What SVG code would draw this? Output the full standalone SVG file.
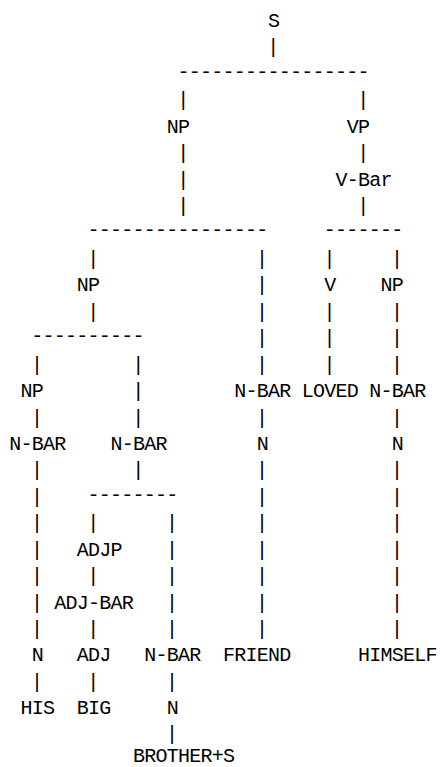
<svg xmlns="http://www.w3.org/2000/svg" width="440" height="767" viewBox="0 0 440 767">
<style>
.lb{font-family:"Liberation Mono","DejaVu Sans Mono",monospace;font-size:20px;letter-spacing:-0.75px;fill:#000}
.p{font-family:"Liberation Mono","DejaVu Sans Mono",monospace;font-size:20px;fill:#000;text-anchor:middle}
.d{font-family:"Liberation Mono","DejaVu Sans Mono",monospace;font-size:20px;letter-spacing:-0.75px;fill:#000}
</style>
<rect width="440" height="767" fill="#fff"/>
<g id="connectors">
<text class="p" x="273.3" y="53.4">|</text>
<text class="d" x="177.5" y="77.9">-----------------</text>
<text class="p" x="183.3" y="106.3">|</text><text class="p" x="363.3" y="106.3">|</text>
<text class="p" x="183.3" y="159.2">|</text><text class="p" x="363.3" y="159.2">|</text>
<text class="p" x="183.3" y="185.6">|</text>
<text class="p" x="183.3" y="212">|</text><text class="p" x="363.3" y="212">|</text>
<text class="d" x="87.5" y="236.4">----------------</text>
<text class="d" x="323.75" y="236.4">-------</text>
<text class="p" x="93.3" y="264.9">|</text><text class="p" x="262.05" y="264.9">|</text><text class="p" x="329.55" y="264.9">|</text><text class="p" x="397.05" y="264.9">|</text>
<text class="p" x="262.05" y="291.3">|</text>
<text class="p" x="93.3" y="317.7">|</text><text class="p" x="262.05" y="317.7">|</text><text class="p" x="329.55" y="317.7">|</text><text class="p" x="397.05" y="317.7">|</text>
<text class="d" x="31.25" y="342.2">----------</text>
<text class="p" x="262.05" y="344.2">|</text><text class="p" x="329.55" y="344.2">|</text><text class="p" x="397.05" y="344.2">|</text>
<text class="p" x="37.05" y="370.6">|</text><text class="p" x="138.3" y="370.6">|</text><text class="p" x="262.05" y="370.6">|</text><text class="p" x="329.55" y="370.6">|</text><text class="p" x="397.05" y="370.6">|</text>
<text class="p" x="138.3" y="397">|</text>
<text class="p" x="37.05" y="423.5">|</text><text class="p" x="138.3" y="423.5">|</text><text class="p" x="262.05" y="423.5">|</text><text class="p" x="397.05" y="423.5">|</text>
<text class="p" x="37.05" y="476.3">|</text><text class="p" x="138.3" y="476.3">|</text><text class="p" x="262.05" y="476.3">|</text><text class="p" x="397.05" y="476.3">|</text>
<text class="p" x="37.05" y="502.7">|</text>
<text class="d" x="87.5" y="500.7">--------</text>
<text class="p" x="262.05" y="502.7">|</text><text class="p" x="397.05" y="502.7">|</text>
<text class="p" x="37.05" y="529.2">|</text><text class="p" x="93.3" y="529.2">|</text><text class="p" x="172.05" y="529.2">|</text><text class="p" x="262.05" y="529.2">|</text><text class="p" x="397.05" y="529.2">|</text>
<text class="p" x="37.05" y="555.6">|</text><text class="p" x="172.05" y="555.6">|</text><text class="p" x="262.05" y="555.6">|</text><text class="p" x="397.05" y="555.6">|</text>
<text class="p" x="37.05" y="582">|</text><text class="p" x="93.3" y="582">|</text><text class="p" x="172.05" y="582">|</text><text class="p" x="262.05" y="582">|</text><text class="p" x="397.05" y="582">|</text>
<text class="p" x="37.05" y="608.5">|</text><text class="p" x="172.05" y="608.5">|</text><text class="p" x="262.05" y="608.5">|</text><text class="p" x="397.05" y="608.5">|</text>
<text class="p" x="37.05" y="634.9">|</text><text class="p" x="93.3" y="634.9">|</text><text class="p" x="172.05" y="634.9">|</text><text class="p" x="262.05" y="634.9">|</text><text class="p" x="397.05" y="634.9">|</text>
<text class="p" x="37.05" y="687.8">|</text><text class="p" x="93.3" y="687.8">|</text><text class="p" x="172.05" y="687.8">|</text>
<text class="p" x="172.05" y="739.6">|</text>
</g>
<g id="n-S"><text class="lb" x="268" y="27">S</text></g>
<g id="n-NP1"><text class="lb" x="166.75" y="132.7">NP</text></g>
<g id="n-VP"><text class="lb" x="346.75" y="132.7">VP</text></g>
<g id="n-VBar"><text class="lb" x="335.5" y="185.6">V-Bar</text></g>
<g id="n-NP2"><text class="lb" x="76.75" y="291.3">NP</text></g>
<g id="n-V"><text class="lb" x="324.25" y="291.3">V</text></g>
<g id="n-NP3"><text class="lb" x="380.5" y="291.3">NP</text></g>
<g id="n-NP4"><text class="lb" x="20.5" y="397">NP</text></g>
<g id="n-NBAR1"><text class="lb" x="234.25" y="397">N-BAR</text></g>
<g id="n-LOVED"><text class="lb" x="301.75" y="397">LOVED</text></g>
<g id="n-NBAR2"><text class="lb" x="369.25" y="397">N-BAR</text></g>
<g id="n-NBAR3"><text class="lb" x="9.25" y="449.9">N-BAR</text></g>
<g id="n-NBAR4"><text class="lb" x="110.5" y="449.9">N-BAR</text></g>
<g id="n-N1"><text class="lb" x="256.75" y="449.9">N</text></g>
<g id="n-N2"><text class="lb" x="391.75" y="449.9">N</text></g>
<g id="n-ADJP"><text class="lb" x="76.75" y="555.6">ADJP</text></g>
<g id="n-ADJBAR"><text class="lb" x="54.25" y="608.5">ADJ-BAR</text></g>
<g id="n-N3"><text class="lb" x="31.75" y="661.3">N</text></g>
<g id="n-ADJ"><text class="lb" x="76.75" y="661.3">ADJ</text></g>
<g id="n-NBAR5"><text class="lb" x="144.25" y="661.3">N-BAR</text></g>
<g id="n-FRIEND"><text class="lb" x="223" y="661.3">FRIEND</text></g>
<g id="n-HIMSELF"><text class="lb" x="358" y="661.3">HIMSELF</text></g>
<g id="n-HIS"><text class="lb" x="20.5" y="714.2">HIS</text></g>
<g id="n-BIG"><text class="lb" x="76.75" y="714.2">BIG</text></g>
<g id="n-N4"><text class="lb" x="166.75" y="714.2">N</text></g>
<g id="n-BROTHERS"><text class="lb" x="133" y="762">BROTHER+S</text></g>
</svg>
